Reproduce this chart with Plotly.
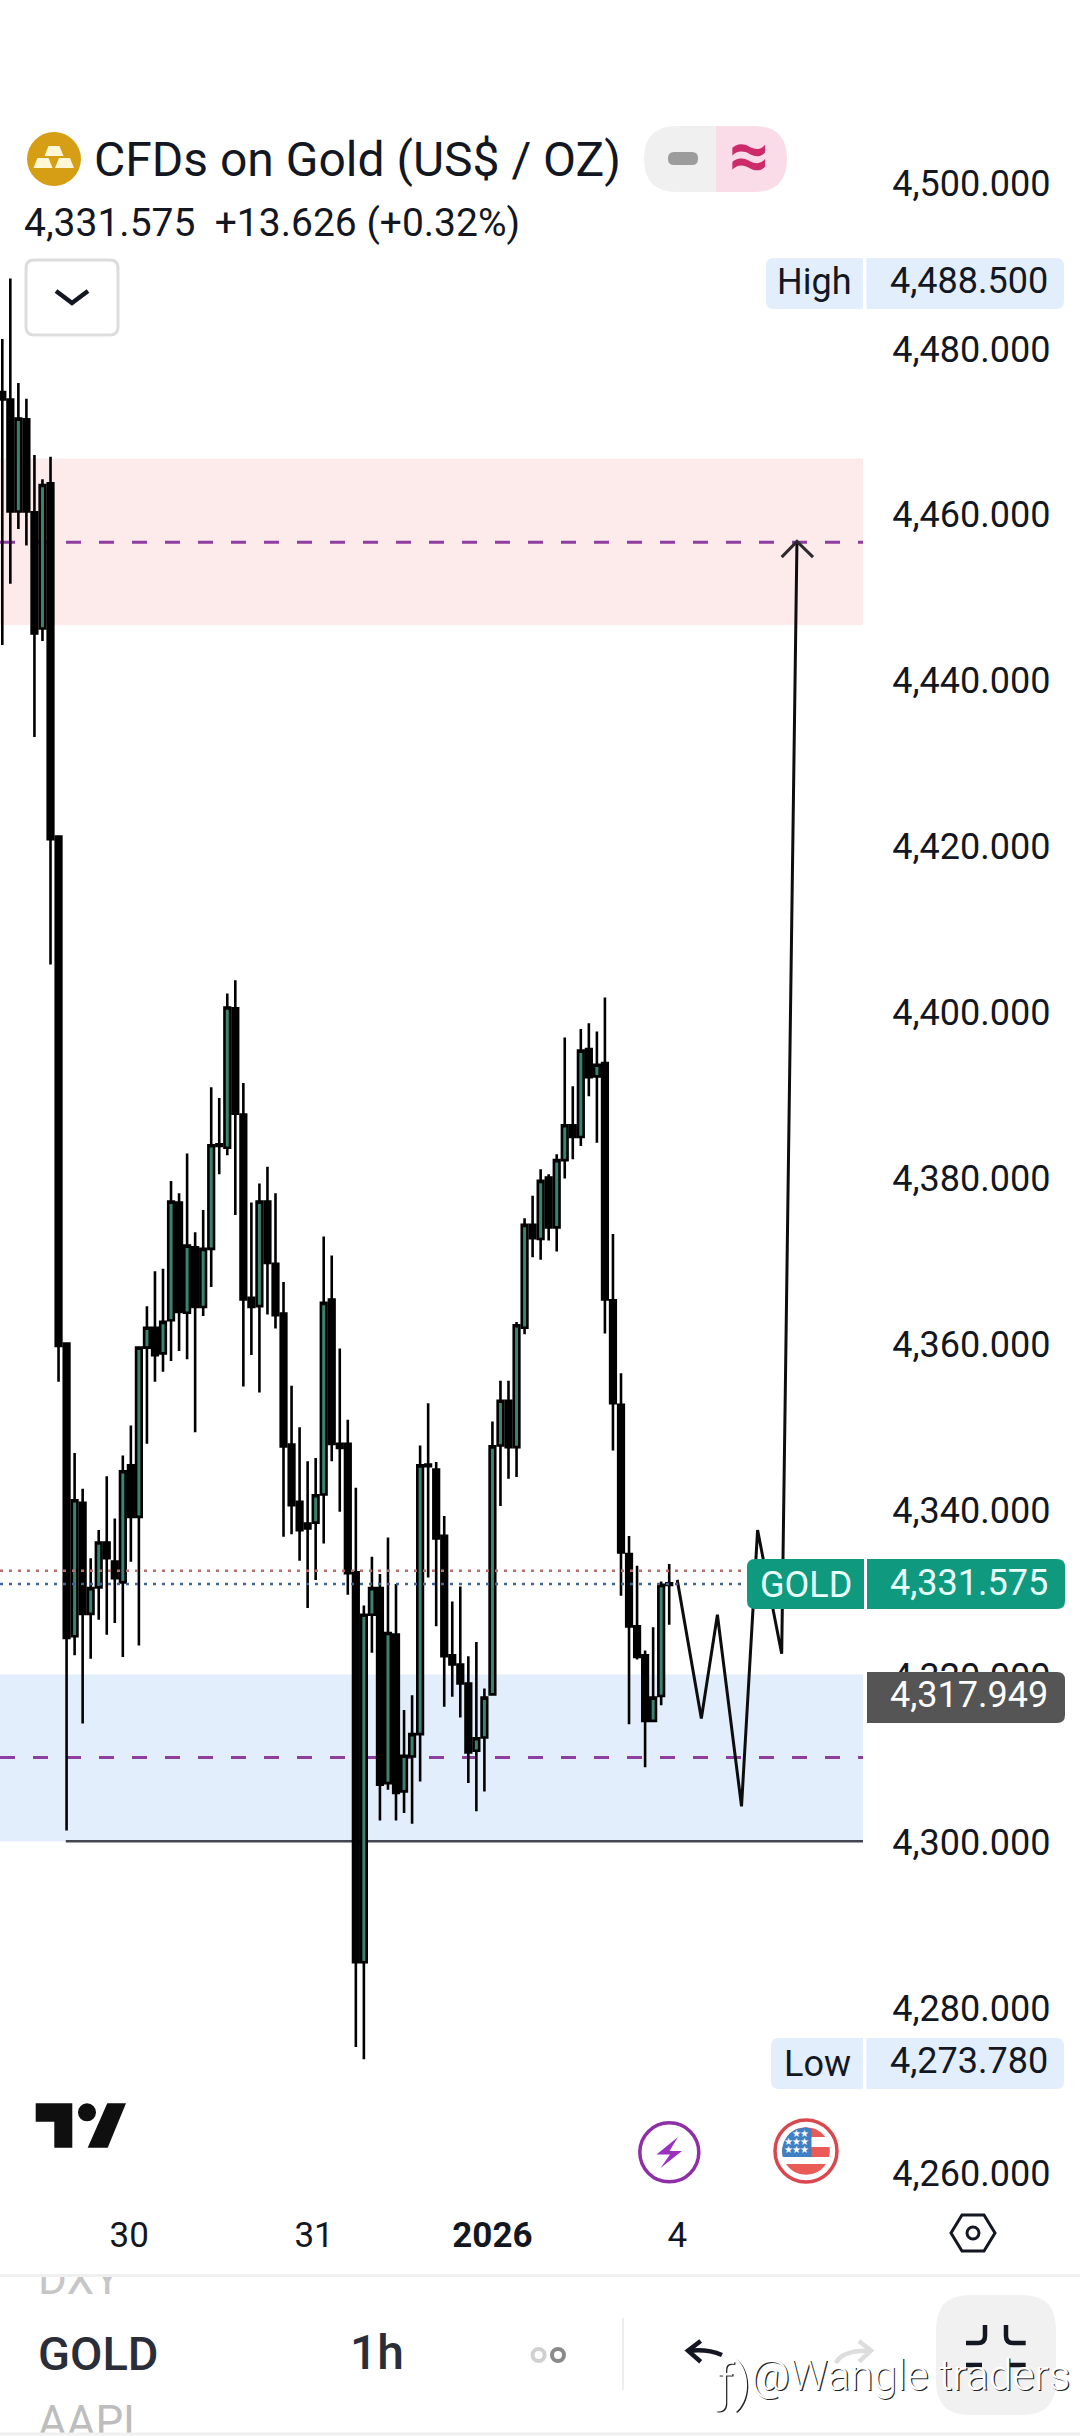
import math
import plotly.graph_objects as go

# ---------- values ----------
bar_open = [4474.8,4473.9,4460.4,4471.5,4460.3,4446.3,4463.8,4421.2,4360.1,4324.8,4340.9,4327.5,4330.7,4336.1,4333.8,4331.3,4345.4,4339.2,4359.6,4362.0,4358.9,4362.9,4377.1,4363.8,4371.7,4364.5,4371.5,4384.1,4383.7,4400.5,4387.7,4365.6,4364.6,4377.2,4369.7,4363.7,4347.9,4341.0,4338.4,4338.5,4341.9,4365.4,4348.0,4348.0,4332.5,4285.5,4327.4,4330.6,4307.1,4325.0,4306.1,4310.3,4313.0,4345.5,4344.9,4336.9,4322.5,4321.4,4319.1,4311.0,4312.6,4317.8,4347.8,4353.2,4347.6,4362.0,4374.4,4372.7,4380.1,4374.1,4382.2,4386.4,4385.0,4395.6,4392.3,4393.9,4365.3,4352.7,4334.7,4326.0,4322.5,4314.6,4317.6,4331.2]
bar_high = [4481.2,4488.5,4475.9,4474.0,4467.2,4464.3,4467.0,4421.2,4360.1,4346.9,4342.6,4334.2,4337.6,4344.1,4339.0,4346.6,4350.2,4359.6,4364.6,4368.8,4369.1,4379.7,4378.2,4383.0,4373.5,4376.2,4391.0,4389.7,4402.3,4403.9,4391.5,4377.1,4379.4,4381.4,4378.2,4367.5,4355.0,4350.0,4345.9,4346.3,4373.0,4370.7,4359.5,4350.9,4342.7,4328.5,4334.4,4332.3,4336.7,4331.1,4315.9,4317.7,4347.8,4352.9,4345.8,4339.3,4329.0,4330.8,4322.4,4324.1,4318.5,4350.7,4355.6,4355.6,4362.7,4375.2,4377.9,4381.1,4380.5,4382.9,4397.0,4391.1,4398.0,4398.7,4397.7,4401.8,4373.3,4356.5,4336.9,4333.3,4323.1,4325.9,4331.4,4333.5]
bar_low = [4444.3,4451.7,4458.3,4456.3,4433.2,4444.8,4405.8,4355.5,4301.4,4322.5,4314.3,4322.1,4326.8,4325.0,4326.4,4322.3,4333.8,4323.7,4348.0,4355.5,4356.7,4358.0,4359.2,4358.2,4349.4,4363.4,4366.9,4380.5,4382.8,4375.6,4354.9,4358.7,4354.2,4363.6,4361.9,4336.8,4337.1,4333.9,4328.2,4331.6,4336.0,4345.9,4339.8,4329.8,4275.3,4273.8,4322.8,4302.6,4306.3,4302.6,4303.5,4302.2,4307.3,4331.9,4326.0,4316.3,4317.5,4315.0,4307.1,4303.7,4306.1,4317.8,4340.5,4343.8,4344.0,4361.2,4370.5,4370.2,4372.5,4371.2,4380.0,4382.3,4383.9,4389.9,4384.3,4361.3,4347.2,4329.7,4314.2,4322.0,4309.0,4314.6,4316.5,4326.2]
bar_close = [4473.9,4460.4,4471.6,4460.4,4445.7,4463.6,4420.9,4359.8,4324.6,4341.2,4327.5,4330.6,4336.1,4334.2,4331.8,4344.7,4339.2,4359.6,4362.0,4358.7,4362.7,4377.2,4363.9,4371.9,4364.5,4371.5,4384.0,4383.9,4400.6,4387.8,4365.4,4364.5,4377.2,4369.8,4363.5,4347.7,4340.6,4337.6,4337.8,4341.8,4365.0,4348.0,4347.5,4332.4,4285.5,4327.4,4330.6,4306.9,4325.2,4305.9,4310.4,4313.0,4345.4,4345.3,4336.6,4322.4,4321.4,4319.1,4310.8,4312.5,4317.4,4347.7,4353.2,4347.6,4362.3,4374.4,4372.8,4379.7,4374.1,4382.2,4386.4,4385.0,4395.4,4392.2,4393.7,4365.4,4352.9,4334.9,4326.0,4322.3,4314.6,4317.4,4331.0,4331.0]

price_ticks = [4260,4280,4300,4320,4340,4360,4380,4400,4420,4440,4460,4480,4500]
day_tick_bars = [15.8, 38.8, 61, 84]
day_tick_labels = ["30", "31", "<b>2026</b>", "4"]

sell_zone = [4446.7, 4466.8]
buy_zone = [4300.1, 4320.2]
sell_mid = 4456.7
buy_mid = 4310.2
support_level = 4300.1
support_start_bar = 7.9
red_dotted = 4332.7
blue_dotted = 4331.1
dotted_end_bar = 92.7

path_bars = [84, 87, 89, 92, 94, 97, 98.9]
path_prices = [4331.6, 4314.9, 4327.4, 4304.3, 4337.6, 4322.7, 4456.8]
head_bars = [97, 98.9, 100.9]
head_prices = [4454.9, 4456.8, 4454.9]

symbol_title = "CFDs on Gold (US$ / OZ)"
quote_line = "4,331.575  +13.626 (+0.32%)"
last_label = "4,331.575"
prev_label = "4,317.949"
high_label = "4,488.500"
low_label = "4,273.780"

# ---------- geometry of the window ----------
W, H = 1080, 2436
PLOT_R, PLOT_T, PLOT_B = 863, 100, 2198
BAR_X0, BAR_STEP = 2.3, 8.035
PX_PER_USD, Y4300 = 8.295, 1842

x_range = [(0 - BAR_X0) / BAR_STEP, (PLOT_R - BAR_X0) / BAR_STEP]
y_range = [4300 - (PLOT_B - Y4300) / PX_PER_USD, 4300 + (Y4300 - PLOT_T) / PX_PER_USD]

FONT = "Roboto"
INK = "#131722"
shapes, notes = [], []


def rrect(x0, y0, x1, y1, r=None, rl=None, rr=None):
    rl = r if rl is None else rl
    rr = r if rr is None else rr
    rl = rl or 0
    rr = rr or 0
    return (f"M{x0+rl},{y0} L{x1-rr},{y0} Q{x1},{y0} {x1},{y0+rr} L{x1},{y1-rr} Q{x1},{y1} {x1-rr},{y1} "
            f"L{x0+rl},{y1} Q{x0},{y1} {x0},{y1-rl} L{x0},{y0+rl} Q{x0},{y0} {x0+rl},{y0} Z")


def ui_path(path, fill=None, color=None, width=0):
    shapes.append(dict(type="path", xref="x3", yref="y3", path=path, layer="above",
                       fillcolor=fill if fill else "rgba(0,0,0,0)",
                       line=dict(color=color if color else "rgba(0,0,0,0)", width=width)))


def ui_circle(cx, cy, r, fill=None, color=None, width=0):
    shapes.append(dict(type="circle", xref="x3", yref="y3", x0=cx - r, x1=cx + r, y0=cy - r, y1=cy + r,
                       layer="above", fillcolor=fill if fill else "rgba(0,0,0,0)",
                       line=dict(color=color if color else "rgba(0,0,0,0)", width=width)))


def ui_text(text, x, y, size=36, color=INK, anchor="right", family=FONT, **font_extra):
    notes.append(dict(text=text, x=x, y=y, xref="x3", yref="y3", showarrow=False, xanchor=anchor,
                      yanchor="middle", borderpad=0,
                      font=dict(family=family, size=size, color=color, **font_extra)))


def disc_band(cx, cy, r, y0, y1, x0=None, x1=None):
    """polygon of a disc cut to a rectangle"""
    x0 = cx - r if x0 is None else x0
    x1 = cx + r if x1 is None else x1
    pts = []
    steps = 14
    for k in range(steps + 1):
        y = y0 + (y1 - y0) * k / steps
        half = math.sqrt(max(r * r - (y - cy) ** 2, 0))
        pts.append((min(cx + half, x1), y))
    for k in range(steps, -1, -1):
        y = y0 + (y1 - y0) * k / steps
        half = math.sqrt(max(r * r - (y - cy) ** 2, 0))
        pts.append((max(cx - half, x0), y))
    return "M" + " L".join(f"{a:.1f},{b:.1f}" for a, b in pts) + " Z"


# ---------- chart shapes (in price/bar coordinates) ----------
for zone, tint in ((sell_zone, "#fdeaea"), (buy_zone, "#e3eefc")):
    shapes.append(dict(type="rect", xref="x", yref="y", x0=x_range[0], x1=x_range[1], y0=zone[0], y1=zone[1],
                       fillcolor=tint, line=dict(width=0), layer="below"))
for lvl in (sell_mid, buy_mid):
    shapes.append(dict(type="line", xref="x", yref="y", x0=x_range[0], x1=x_range[1], y0=lvl, y1=lvl,
                       layer="below", line=dict(color="#8e3ea0", width=3, dash="15px,18px")))
shapes.append(dict(type="line", xref="x", yref="y", x0=support_start_bar, x1=x_range[1], y0=support_level,
                   y1=support_level, layer="below", line=dict(color="#434651", width=2.5)))
for lvl, col in ((red_dotted, "#b5706f"), (blue_dotted, "#3f6594")):
    shapes.append(dict(type="line", xref="x", yref="y", x0=x_range[0], x1=dotted_end_bar, y0=lvl, y1=lvl,
                       layer="above", line=dict(color=col, width=2.5, dash="3px,6px")))

# ---------- price labels ----------
TEAL = "#0f9a80"
ui_path(rrect(747, 1559, 864, 1609, rl=8, rr=0), fill=TEAL)
ui_path(rrect(867, 1559, 1065, 1609, rl=0, rr=8), fill=TEAL)
ui_text("GOLD", 806, 1585, color="#e8fffa", anchor="center")
ui_text(last_label, 1049, 1583, color="#e8fffa")
ui_path(rrect(867, 1672, 1065, 1723, rl=0, rr=8), fill="#555555")
ui_text(prev_label, 1049, 1695, color="#ffffff")
PALE = "#e2eefc"
ui_path(rrect(766, 258, 863, 309, rl=8, rr=0), fill=PALE)
ui_path(rrect(866.5, 258, 1064, 309, rl=0, rr=8), fill=PALE)
ui_text("High", 852, 282)
ui_text(high_label, 1049, 281)
ui_path(rrect(771, 2038, 863, 2089, rl=8, rr=0), fill=PALE)
ui_path(rrect(866.5, 2038, 1064, 2089, rl=0, rr=8), fill=PALE)
ui_text("Low", 852, 2064)
ui_text(low_label, 1049, 2061)

# ---------- header ----------
ui_circle(54, 159, 27, fill="#d69e14")
for x0, y0 in ((44.5, 146), (33.5, 158), (55, 158)):
    ui_path(f"M{x0+4},{y0} L{x0+15},{y0} L{x0+19},{y0+10} L{x0},{y0+10} Z", fill="#fff7d6")
ui_text(symbol_title, 93, 159, size=48, anchor="left")
ui_text(quote_line, 23, 223, size=39, anchor="left")
ui_path(f"M716,126 L677,126 Q644,126 644,159 Q644,192 677,192 L716,192 Z", fill="#f0f0f0")
ui_path(f"M716,126 L754,126 Q787,126 787,159 Q787,192 754,192 L716,192 Z", fill="#f9dce7")
ui_path(rrect(668, 152, 698, 165, r=6), fill="#9c9c9c")
ui_text("≈", 749, 155, size=70, color="#cc2a68", anchor="center", weight="bold")
ui_path(rrect(26, 260, 118, 335, r=8), color="#dddddd", width=3)
ui_path("M56,291 L72,303 L88,291", color="#131722", width=4.5)

# ---------- TradingView mark ----------
ui_path("M35.7,2103.3 L72.3,2103.3 L72.3,2147.7 L54.3,2147.7 L54.3,2121.7 L35.7,2121.7 Z", fill="#0f0f0f")
ui_circle(87, 2112.3, 9, fill="#0f0f0f")
ui_path("M107.3,2103.3 L126,2103.3 L107.7,2147.7 L87.7,2147.7 Z", fill="#0f0f0f")

# ---------- event icons ----------
ui_circle(669.3, 2152.3, 29.5, color="#8e2fa8", width=3.5)
ui_path("M678,2137 L656.5,2154.5 L670,2154.5 L660.5,2168 L682,2151 L669.5,2151 Z", fill="#9b2fc0")
cx, cy, r = 806, 2151, 23.8
ui_circle(cx, cy, 31, color="#d9474f", width=3.5)
ui_path(disc_band(cx, cy, r, cy - r, cy - 14), fill="#ea5b57")
ui_path(disc_band(cx, cy, r, cy - 4, cy + 6), fill="#ea5b57")
ui_path(disc_band(cx, cy, r, cy + 13, cy + r), fill="#ea5b57")
ui_path(disc_band(cx, cy, r, cy - r, cy + 6, x1=811.5), fill="#3f7fc4")
for sx, sy in ((796, 2133), (804, 2133), (788.5, 2141.5), (796, 2141.5), (804, 2141.5),
               (788.5, 2149), (796, 2149), (804, 2149)):
    ui_text("★", sx, sy, size=10, color="#ffffff", anchor="center", family="DejaVu Sans")

# ---------- axis corner button ----------
ui_path("M951,2233 L962,2215 L984,2215 L995,2233 L984,2251 L962,2251 Z", color="#131722", width=3)
ui_circle(973, 2233, 6, color="#131722", width=3)

# ---------- bottom toolbar ----------
ui_path(f"M0,2275.5 L{W},2275.5", color="#f0f0f0", width=3)
ui_path(f"M0,2434 L{W},2434", color="#f0f0f0", width=3)
ui_text("GOLD", 37, 2353, size=47, color="#2a2e39", anchor="left", weight=500)
ui_text("1h", 349, 2352, size=48, color="#2a2e39", anchor="left", weight=500)
ui_circle(538.6, 2355, 6, color="#d0d0d0", width=4)
ui_circle(558, 2355, 6, color="#8a8a8a", width=4)
ui_path("M623,2318 L623,2390", color="#eeeeee", width=2)
ui_path("M722,2355 Q708,2349 690,2350.7", color="#131722", width=4.5)
ui_path("M700.7,2341 L688,2350.7 L700.7,2361.7", color="#131722", width=4.5)
ui_path("M835.7,2363 Q842,2350 870,2350.7", color="#dddddd", width=4.5)
ui_path("M859,2341 L871,2350.7 L859,2361.7", color="#dddddd", width=4.5)
ui_path(rrect(936, 2295, 1056, 2415, r=34), fill="#f1f1f1")
ui_path("M966,2343 L978,2343 Q985,2343 985,2336 L985,2325", color="#131722", width=4.5)
ui_path("M1006,2325 L1006,2336 Q1006,2343 1013,2343 L1025.7,2343", color="#131722", width=4.5)
ui_path("M966,2365 L982,2365", color="#131722", width=4.5)
ui_path("M1009,2365 L1025.7,2365", color="#131722", width=4.5)

# ---------- watermark ----------
halo = "1.2px 1px 0 #222222"
ui_text("ƒ)", 714, 2382, size=52, color="#ffffff", anchor="left", shadow=halo, weight=300)
ui_text("@Wangle traders", 750, 2375, size=42.5, color="#ffffff", anchor="left", shadow=halo, weight=300)

# ---------- figure ----------
bars = list(range(len(bar_open)))
fig = go.Figure()
fig.add_trace(go.Candlestick(
    x=bars, open=bar_open, high=bar_high, low=bar_low, close=bar_close,
    increasing=dict(fillcolor="#3a8272", line=dict(color="#000000", width=2.6)),
    decreasing=dict(fillcolor="#000000", line=dict(color="#000000", width=2.6)),
    whiskerwidth=0, hoverinfo="skip", showlegend=False, xaxis="x", yaxis="y"))
fig.add_trace(go.Scatter(x=path_bars, y=path_prices, mode="lines", xaxis="x", yaxis="y",
                         line=dict(color="#0d0d0d", width=3), hoverinfo="skip"))
fig.add_trace(go.Scatter(x=head_bars, y=head_prices, mode="lines", xaxis="x", yaxis="y",
                         line=dict(color="#2d2a2e", width=3), hoverinfo="skip"))
# faded watchlist rows that scroll under the toolbar edges
fig.add_trace(go.Scatter(x=[38], y=[2283], mode="text", text=["DXY"], textposition="middle right",
                         textfont=dict(family=FONT, size=44, color="#c6c6c6"), xaxis="x2", yaxis="y2",
                         hoverinfo="skip"))
fig.add_trace(go.Scatter(x=[38], y=[2426], mode="text", text=["AAPL"], textposition="middle right",
                         textfont=dict(family=FONT, size=44, color="#bdbdbd"), xaxis="x2", yaxis="y2",
                         hoverinfo="skip"))
fig.add_trace(go.Scatter(x=[0], y=[0], mode="markers", marker=dict(opacity=0), xaxis="x3", yaxis="y3",
                         hoverinfo="skip"))

fig.update_layout(
    width=W, height=H, margin=dict(l=0, r=0, t=0, b=0, pad=0, autoexpand=False),
    paper_bgcolor="#ffffff", plot_bgcolor="rgba(0,0,0,0)", showlegend=False, dragmode=False,
    boxgap=0.3, boxgroupgap=0,
    font=dict(family=FONT, color=INK),
    xaxis=dict(domain=[0, PLOT_R / W], range=x_range, anchor="y", rangeslider=dict(visible=False),
               tickmode="array", tickvals=day_tick_bars, ticktext=day_tick_labels,
               tickfont=dict(family=FONT, size=35, color=INK), ticks="outside", ticklen=6,
               tickcolor="rgba(0,0,0,0)", showgrid=False, zeroline=False, showline=False),
    yaxis=dict(domain=[1 - PLOT_B / H, 1 - PLOT_T / H], range=y_range, anchor="x", side="right",
               tickmode="array", tickvals=price_ticks, tickformat=",.3f",
               tickfont=dict(family=FONT, size=36, color=INK), ticks="outside", ticklen=21,
               tickcolor="rgba(0,0,0,0)", showgrid=False, zeroline=False, showline=False),
    xaxis2=dict(domain=[0, 1], range=[0, W], anchor="y2", visible=False, fixedrange=True),
    yaxis2=dict(domain=[1 - 2433 / H, 1 - 2277 / H], range=[2433, 2277], anchor="x2", visible=False, fixedrange=True),
    xaxis3=dict(domain=[0, 1], range=[0, W], anchor="y3", visible=False, fixedrange=True),
    yaxis3=dict(domain=[0, 1], range=[H, 0], anchor="x3", visible=False, fixedrange=True),
    shapes=shapes, annotations=notes,
)

fig.write_html("out.html", config=dict(displayModeBar=False),
               post_script="document.body.style.margin='0';document.body.style.background='#fff';")
